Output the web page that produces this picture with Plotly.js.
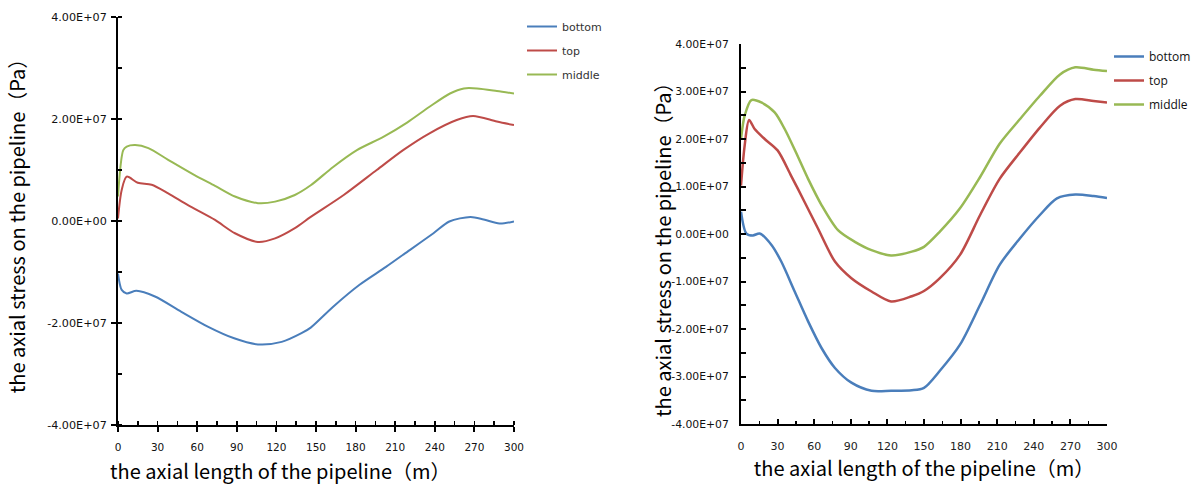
<!DOCTYPE html>
<html>
<head>
<meta charset="utf-8">
<script src="https://cdn.plot.ly/plotly-3.0.1.min.js"></script>
<style>html,body{margin:0;padding:0;background:#fff;}#chart{width:1196px;height:486px;}</style>
</head>
<body>
<div id="chart"></div>
<script>
// ---------- Left chart data (x in m, stress in Pa) ----------
var leftBottomX = [0, 2.8, 6.6, 14, 28, 48, 68, 88, 106, 124, 139, 146, 163, 183, 203, 221, 239, 251, 267, 277, 289, 300];
var leftBottomY = [-1.03e7, -1.35e7, -1.42e7, -1.37e7, -1.48e7, -1.78e7, -2.07e7, -2.30e7, -2.42e7, -2.37e7, -2.20e7, -2.09e7, -1.68e7, -1.25e7, -0.90e7, -0.57e7, -0.24e7, -0.01e7, 0.08e7, 0.03e7, -0.05e7, -0.01e7];

var leftTopX = [0, 2.8, 6.6, 15, 25.5, 38, 53, 73.5, 88.6, 106, 119, 134, 146, 171, 196, 216, 236, 256.6, 269, 287, 300];
var leftTopY = [0.05e7, 0.61e7, 0.87e7, 0.75e7, 0.71e7, 0.54e7, 0.31e7, 0.02e7, -0.24e7, -0.41e7, -0.34e7, -0.14e7, 0.08e7, 0.51e7, 1.00e7, 1.39e7, 1.72e7, 1.98e7, 2.06e7, 1.95e7, 1.88e7];

var leftMiddleX = [0, 4, 6.6, 13, 23, 38, 58, 73.5, 88.6, 106, 119, 134, 146, 163, 181, 201, 219, 236, 251.5, 262, 272, 287, 300];
var leftMiddleY = [0.48e7, 1.39e7, 1.46e7, 1.49e7, 1.43e7, 1.20e7, 0.90e7, 0.69e7, 0.48e7, 0.35e7, 0.38e7, 0.51e7, 0.70e7, 1.06e7, 1.39e7, 1.65e7, 1.93e7, 2.24e7, 2.50e7, 2.60e7, 2.60e7, 2.55e7, 2.50e7];

// ---------- Right chart data ----------
var rightBottomX = [0, 4.4, 9.8, 15.3, 25, 33, 44, 55, 66, 77, 90.5, 107, 123, 140, 150, 163, 179.5, 196, 212, 228.7, 245, 259, 274, 289, 300];
var rightBottomY = [0.47e7, 0.01e7, -0.03e7, 0.01e7, -0.23e7, -0.58e7, -1.21e7, -1.84e7, -2.40e7, -2.82e7, -3.13e7, -3.30e7, -3.30e7, -3.29e7, -3.24e7, -2.88e7, -2.33e7, -1.49e7, -0.65e7, -0.09e7, 0.40e7, 0.75e7, 0.83e7, 0.80e7, 0.76e7];

var rightTopX = [0, 3, 6.6, 11.2, 19.4, 30, 41, 52, 63, 77, 90.5, 107, 123, 140, 150, 163, 179.5, 196, 212, 228.7, 245, 261.5, 274, 289, 300];
var rightTopY = [1.02e7, 1.86e7, 2.40e7, 2.21e7, 2.00e7, 1.76e7, 1.23e7, 0.68e7, 0.12e7, -0.58e7, -0.93e7, -1.21e7, -1.42e7, -1.31e7, -1.20e7, -0.93e7, -0.44e7, 0.40e7, 1.16e7, 1.72e7, 2.24e7, 2.70e7, 2.84e7, 2.80e7, 2.77e7];

var rightMiddleX = [0, 3, 8.5, 16.6, 27.6, 35.8, 45, 55, 66, 79.5, 93, 107, 123, 140, 150, 163, 179.5, 196, 212, 228.7, 245, 261.5, 274, 289, 300];
var rightMiddleY = [2.00e7, 2.49e7, 2.82e7, 2.77e7, 2.56e7, 2.21e7, 1.72e7, 1.16e7, 0.61e7, 0.08e7, -0.16e7, -0.34e7, -0.45e7, -0.37e7, -0.27e7, 0.05e7, 0.54e7, 1.20e7, 1.90e7, 2.42e7, 2.91e7, 3.36e7, 3.51e7, 3.46e7, 3.43e7];

// ---------- Tick labels ----------
var leftYTickVals = [-4e7, -2e7, 0, 2e7, 4e7];
var leftYTickText = ['-4.00E+07', '-2.00E+07', '0.00E+00', '2.00E+07', '4.00E+07'];
var rightYTickVals = [-4e7, -3e7, -2e7, -1e7, 0, 1e7, 2e7, 3e7, 4e7];
var rightYTickText = ['-4.00E+07', '-3.00E+07', '-2.00E+07', '-1.00E+07', '0.00E+00', '1.00E+07', '2.00E+07', '3.00E+07', '4.00E+07'];
var seriesNames = ['bottom', 'top', 'middle'];

var colors = ['#4A7EBB', '#BE4B48', '#98B954'];

function tr(x, y, i, xa, ya, lg, w) {
  return {x: x, y: y, type: 'scatter', mode: 'lines', name: seriesNames[i],
    xaxis: xa, yaxis: ya, legend: lg, legendgroup: lg + i,
    line: {color: colors[i], width: w, shape: 'spline', smoothing: 0.8},
    hoverinfo: 'skip'};
}

var data = [
  tr(leftBottomX, leftBottomY, 0, 'x', 'y', 'legend', 2),
  tr(leftTopX, leftTopY, 1, 'x', 'y', 'legend', 2),
  tr(leftMiddleX, leftMiddleY, 2, 'x', 'y', 'legend', 2),
  tr(rightBottomX, rightBottomY, 0, 'x2', 'y2', 'legend2', 2.5),
  tr(rightTopX, rightTopY, 1, 'x2', 'y2', 'legend2', 2.5),
  tr(rightMiddleX, rightMiddleY, 2, 'x2', 'y2', 'legend2', 2.5)
];

var titleFont = {family: 'Noto Sans CJK SC, Noto Sans, sans-serif', size: 20, color: '#000'};

var layout = {
  width: 1196, height: 486,
  margin: {l: 0, r: 0, t: 0, b: 0},
  paper_bgcolor: '#fff', plot_bgcolor: '#fff',
  showlegend: true,
  xaxis: {
    domain: [118/1196, 514/1196], range: [0, 300], anchor: 'y',
    showline: true, linecolor: '#000', linewidth: 2, mirror: false,
    showgrid: false, zeroline: false,
    tickmode: 'linear', tick0: 0, dtick: 30,
    ticks: 'outside', ticklen: 5, tickwidth: 2, tickcolor: '#000',
    minor: {ticks: 'inside', dtick: 15, tick0: 0, ticklen: 4, tickwidth: 1.5, tickcolor: '#000', showgrid: false},
    tickfont: {family: 'DejaVu Sans', size: 10.5, color: '#111'},
    ticklabelstandoff: 6
  },
  yaxis: {
    domain: [61/486, 469/486], range: [-4e7, 4e7], anchor: 'x',
    showline: true, linecolor: '#000', linewidth: 2,
    showgrid: false, zeroline: false,
    tickmode: 'array', tickvals: leftYTickVals, ticktext: leftYTickText,
    ticks: 'outside', ticklen: 5, tickwidth: 2, tickcolor: '#000',
    minor: {ticks: 'inside', dtick: 1e7, tick0: 0, ticklen: 4, tickwidth: 2, tickcolor: '#000', showgrid: false},
    tickfont: {family: 'DejaVu Sans', size: 11.2, color: '#111'},
    ticklabelstandoff: 2,
    title: {text: 'the axial stress on the pipeline（Pa）', font: titleFont, standoff: 16}
  },
  xaxis2: {
    domain: [741/1196, 1107/1196], range: [0, 300], anchor: 'y2',
    showline: true, linecolor: '#000', linewidth: 2,
    showgrid: false, zeroline: false,
    tickmode: 'linear', tick0: 0, dtick: 30,
    ticks: 'inside', ticklen: 5, tickwidth: 2, tickcolor: '#000',
    minor: {ticks: 'inside', dtick: 15, tick0: 0, ticklen: 3, tickwidth: 1.5, tickcolor: '#000', showgrid: false},
    tickfont: {family: 'DejaVu Sans', size: 11, color: '#222'},
    ticklabelstandoff: 11,
    title: {text: 'the axial length of the pipeline（m）', font: titleFont, standoff: 10}
  },
  yaxis2: {
    domain: [62/486, 442/486], range: [-4e7, 4e7], anchor: 'x2',
    showline: true, linecolor: '#000', linewidth: 2,
    showgrid: false, zeroline: false,
    tickmode: 'array', tickvals: rightYTickVals, ticktext: rightYTickText,
    ticks: 'inside', ticklen: 5, tickwidth: 2, tickcolor: '#000',
    minor: {ticks: 'inside', dtick: 5e6, tick0: 0, ticklen: 5, tickwidth: 2, tickcolor: '#000', showgrid: false},
    tickfont: {family: 'DejaVu Sans', size: 10.8, color: '#111'},
    ticklabelstandoff: 8
  },
  legend: {
    x: 522/1196, y: 1 - 12/486, xref: 'paper', yref: 'paper', xanchor: 'left', yanchor: 'top',
    bgcolor: 'rgba(0,0,0,0)', borderwidth: 0, traceorder: 'grouped', tracegroupgap: 5,
    font: {family: 'DejaVu Sans', size: 11, color: '#333'}, itemwidth: 30
  },
  legend2: {
    x: 1109/1196, y: 1 - 42/486, xref: 'paper', yref: 'paper', xanchor: 'left', yanchor: 'top',
    bgcolor: 'rgba(0,0,0,0)', borderwidth: 0, traceorder: 'grouped', tracegroupgap: 5,
    font: {family: 'Open Sans', size: 12, color: '#111'}, itemwidth: 30
  },
  annotations: [
    {text: 'the axial length of the pipeline（m）', xref: 'paper', yref: 'paper',
     x: 280/1196, y: 1 - 470/486, xanchor: 'center', yanchor: 'middle', showarrow: false, font: titleFont},
    {text: 'the axial stress on the pipeline（Pa）', xref: 'paper', yref: 'paper', textangle: -90,
     x: 662/1196, y: 1 - 245/486, xanchor: 'center', yanchor: 'middle', showarrow: false, font: titleFont}
  ]
};

Plotly.newPlot('chart', data, layout, {staticPlot: true, displayModeBar: false});
</script>
</body>
</html>
